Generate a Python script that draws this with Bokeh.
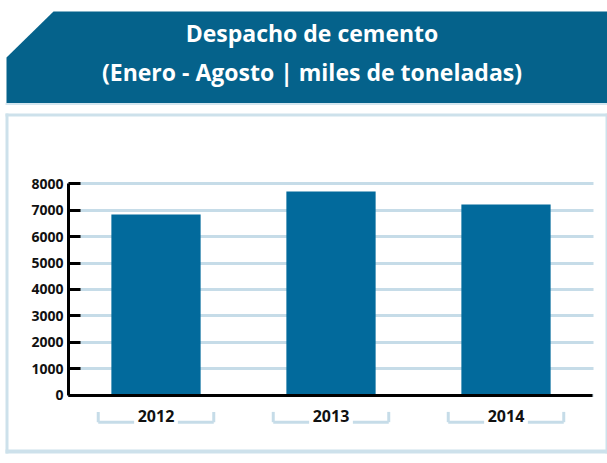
from bokeh.plotting import figure
from bokeh.models import (ColumnDataSource, FixedTicker, Range1d, LinearAxis, Grid)
from bokeh.core.properties import value
from bokeh.embed import file_html
from bokeh.resources import INLINE

# ---- data ----
years = ["2012", "2013", "2014"]
despacho = [6840, 7710, 7220]
y_ticks = [0, 1000, 2000, 3000, 4000, 5000, 6000, 7000, 8000]
title_1 = "Despacho de cemento"
title_2 = "(Enero - Agosto | miles de toneladas)"

BANNER = "#05628b"
BAR = "#026a9c"
GRID = "#c6dce8"
FRAME = "#cde1eb"
FONT = "Open Sans"

W, H = 607, 463
# pixel layout of the plotting area inside the canvas
X0, PX_PER_CAT, RIGHT_EDGE = 68.0, 175.0, 593.0
Y0, PX_PER_UNIT = 394.5, 211.2 / 8000.0

n = len(years)
xpos = [i + 0.5 for i in range(n)]

p = figure(width=W, height=H, output_backend="svg", toolbar_location=None,
           x_axis_type=None, y_axis_type=None, min_border=0,
           x_range=Range1d(-X0 / PX_PER_CAT, (W - X0) / PX_PER_CAT),
           y_range=Range1d(-(H - Y0) / PX_PER_UNIT, Y0 / PX_PER_UNIT))
p.extra_x_ranges = {"px": Range1d(0, W)}
p.extra_y_ranges = {"px": Range1d(H, 0)}
p.outline_line_color = None
p.background_fill_color = "white"
p.border_fill_color = "white"
p.xgrid.visible = False
p.ygrid.visible = False

# horizontal grid lines
grid = Grid(dimension=1, ticker=FixedTicker(ticks=y_ticks), grid_line_color=GRID,
            grid_line_width=3)
try:
    grid.cross_bounds = (0, (RIGHT_EDGE - X0) / PX_PER_CAT)
    need_mask = False
except Exception:
    need_mask = True
p.add_layout(grid)

# ---- decorations (pixel coordinates) ----
px = dict(x_range_name="px", y_range_name="px")
if need_mask:
    p.quad(left=[0, RIGHT_EDGE + 1], right=[X0 - 2, W], top=[120, 120], bottom=[400, 400],
           fill_color="white", line_color=None, **px)
p.patch(x=[53, W, W, 6, 6], y=[11, 11, 102.5, 102.5, 57], fill_color=BANNER,
        line_color=None, **px)
p.quad(left=[5], right=[W], top=[102.5], bottom=[104.5], fill_color="#d4e6ef",
       line_color=None, **px)
p.quad(left=[5, 5, 5, 605], right=[8, W, W, 607], top=[113, 113, 449, 113],
       bottom=[453, 116, 453, 453], fill_color=FRAME, line_color=None, **px)
p.text(x=[311.5, 311.5], y=[32.5, 71], text=[title_1, title_2], text_color="white",
       text_font=value(FONT), text_font_style="bold", text_font_size="23px",
       text_align="center", text_baseline="alphabetic", **px)

# ---- bars ----
src = ColumnDataSource(dict(x=xpos, val=despacho))
p.vbar(x="x", top="val", width=0.51, source=src, fill_color=BAR, line_color=None)

# brackets around the category labels
bx0, by0, bx1, by1 = [], [], [], []
for c in xpos:
    for s in (-1, 1):
        inner, outer = c + s * 0.125, c + s * 0.33
        bx0 += [inner, outer]
        by0 += [-1030, -1030]
        bx1 += [outer, outer]
        by1 += [-1030, -640]
p.segment(x0=bx0, y0=by0, x1=bx1, y1=by1, line_color=GRID, line_width=3)

# ---- axes ----
ya = LinearAxis(fixed_location=0, bounds=(0, 8000), ticker=FixedTicker(ticks=y_ticks))
ya.axis_line_color = "black"
ya.axis_line_width = 3
ya.major_tick_in = 12
ya.major_tick_out = 0
ya.major_tick_line_color = "black"
ya.major_tick_line_width = 3
ya.minor_tick_line_color = None
ya.major_label_text_font = FONT
ya.major_label_text_font_style = "bold"
ya.major_label_text_font_size = "14px"
ya.major_label_text_color = "#111111"
ya.major_label_standoff = 5
p.add_layout(ya, "left")

xa = LinearAxis(fixed_location=0, bounds=(0, (RIGHT_EDGE - 1 - X0) / PX_PER_CAT),
                ticker=FixedTicker(ticks=xpos),
                major_label_overrides={x: y for x, y in zip(xpos, years)})
xa.axis_line_color = "black"
xa.axis_line_width = 3
xa.major_tick_line_color = None
xa.minor_tick_line_color = None
xa.major_label_text_font = FONT
xa.major_label_text_font_style = "bold"
xa.major_label_text_font_size = "16px"
xa.major_label_text_color = "#111111"
xa.major_label_standoff = 9
p.add_layout(xa, "below")

open("out.html", "w").write(file_html(p, INLINE))
